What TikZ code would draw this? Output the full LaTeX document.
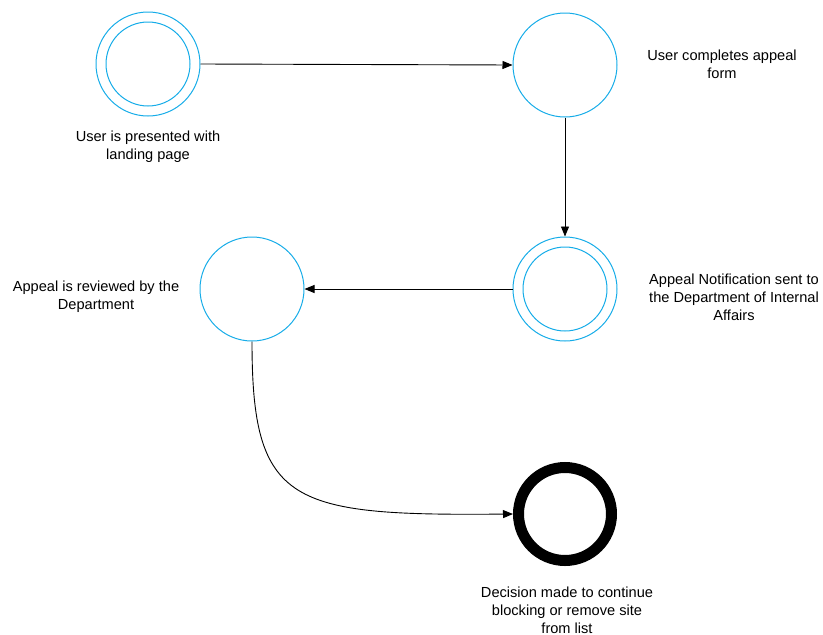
\documentclass[tikz,border=0pt]{standalone}
\usepackage{fontspec}
\setmainfont{Liberation Sans}
\usetikzlibrary{arrows.meta}
\definecolor{stateblue}{RGB}{22,172,232}
\begin{document}
\begin{tikzpicture}[x=1pt,y=-1pt,
  state/.style={circle,draw=stateblue,line width=1pt,minimum size=104pt,inner sep=0pt},
  inner/.style={circle,draw=stateblue,line width=1pt,minimum size=84pt,inner sep=0pt},
  final/.style={circle,draw=black,line width=11pt,minimum size=93pt,inner sep=0pt},
  lbl/.style={align=center,font=\fontsize{14.6}{18}\selectfont,inner sep=0pt},
  conn/.style={draw=black,line width=0.9pt,-{Triangle[length=10pt,width=8pt]}}]
\useasboundingbox (0,0) rectangle (823,635);
\node[state] (s1) at (148,64) {};
\node[inner] (s1i) at (148,64) {};
\node[state] (s2) at (565,65) {};
\node[state] (s3) at (565,289) {};
\node[inner] (s3i) at (565,289) {};
\node[state] (s4) at (252,289) {};
\node[final] (s5) at (565,514) {};
\coordinate (s5w) at (513,514);
\node[lbl] (t1) at (148,147) {User is presented with\\landing page};
\node[lbl] (t2) at (722,64) {User completes appeal\\form};
\node[lbl] (t3) at (734,297) {Appeal Notification sent to\\the Department of Internal\\Affairs};
\node[lbl] (t4) at (96,297) {Appeal is reviewed by the\\Department};
\node[lbl] (t5) at (567,610) {Decision made to continue\\blocking or remove site\\from list};
\draw[conn] (s1.east) -- (s2.west);
\draw[conn] (s2.south) -- (s3.north);
\draw[conn] (s3.west) -- (s4.east);
\draw[conn] (s4.south) .. controls (252,505) and (290,516) .. (s5w);
\end{tikzpicture}
\end{document}
